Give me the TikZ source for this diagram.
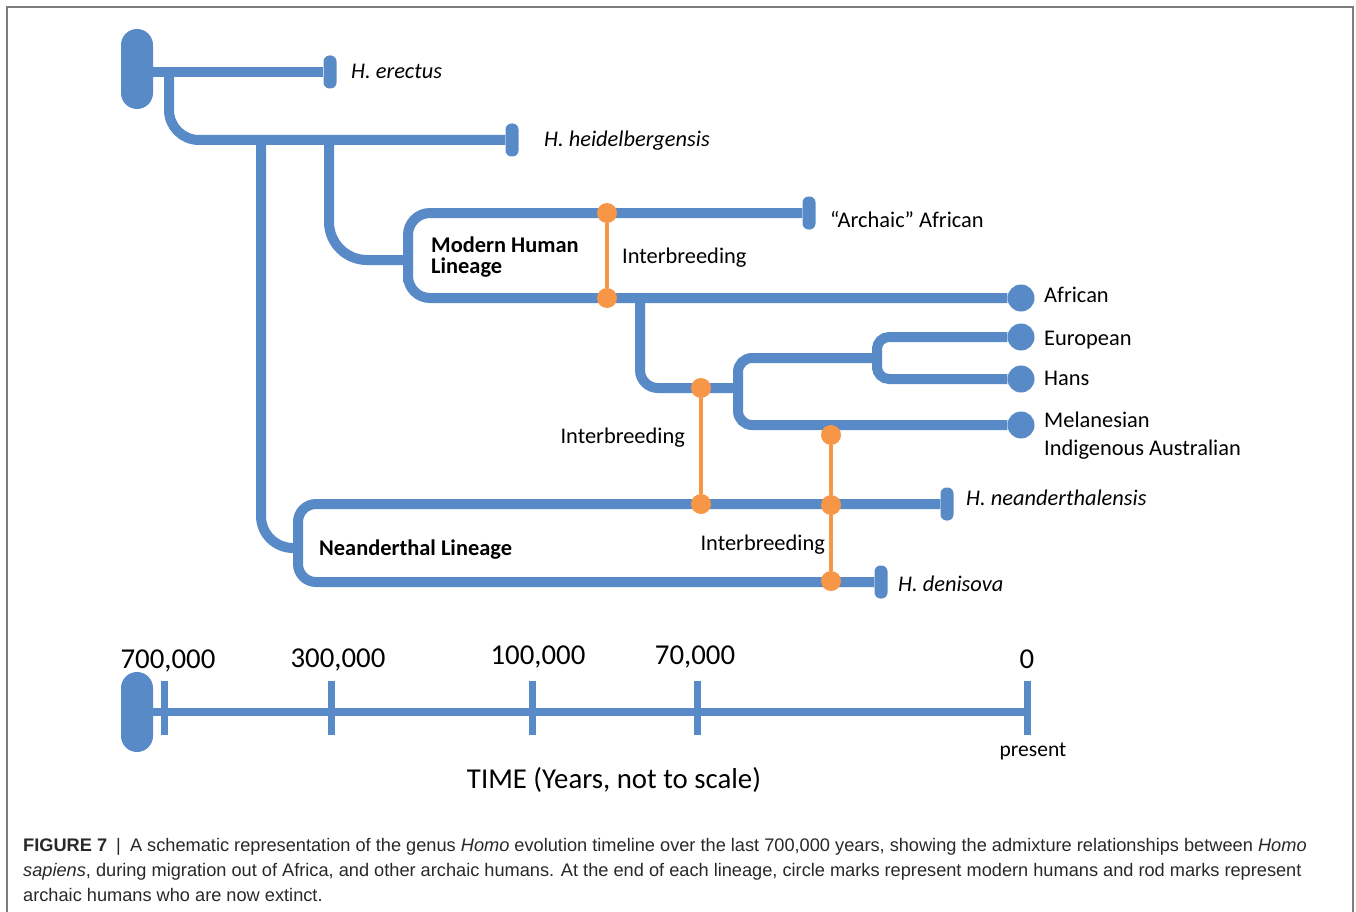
\documentclass[tikz,border=0pt]{standalone}
\usepackage{fontspec}
\setmainfont{Carlito}
\newfontfamily\capfont{Liberation Sans}
\usetikzlibrary{positioning}
\definecolor{lineblue}{RGB}{88,138,200}
\definecolor{mixorange}{RGB}{247,150,70}
\definecolor{framegray}{RGB}{125,125,125}
\definecolor{captext}{RGB}{40,40,40}

\begin{document}
\begin{tikzpicture}[x=1pt, y=-1pt,
  every node/.style={inner sep=0pt, font=\fontsize{22.4}{21}\selectfont},
  lin/.style={draw=lineblue, line width=10pt, rounded corners=#1},
  lin/.default=16pt,
  tline/.style={draw=lineblue, line width=8pt},
  gene/.style={draw=mixorange, line width=4pt},
  rod/.style={rectangle, fill=lineblue, rounded corners=6pt, minimum width=13pt, minimum height=33pt},
  rootrod/.style={rectangle, fill=lineblue, rounded corners=16pt, minimum width=32pt, minimum height=80pt},
  livetip/.style={circle, fill=lineblue, minimum size=27pt},
  mixdot/.style={circle, fill=mixorange, minimum size=20pt},
  yearmark/.style={rectangle, fill=lineblue, minimum width=7pt, minimum height=54pt},
  tag/.style={anchor=base west},
  yearlab/.style={font=\fontsize{28.8}{30}\selectfont, anchor=base},
  capline/.style={anchor=base west, text=captext, font=\capfont\fontsize{18.2}{25}\selectfont}]
  \useasboundingbox (0,0) rectangle (1356,912);
  \draw[framegray, line width=1.5pt] (7,912) -- (7,7) -- (1353,7) -- (1353,912);

  % ends of the lineages
  \node[rootrod] (root) at (137,69) {};
  \node[rod] (erectus) at (330,72) {};
  \node[rod] (heidel) at (512,140) {};
  \node[rod] (archaic) at (809,213) {};
  \node[livetip] (african) at (1021,298) {};
  \node[livetip] (euro) at (1021,337) {};
  \node[livetip] (hans) at (1021,379) {};
  \node[livetip] (mela) at (1021,425) {};
  \node[rod] (neand) at (947,504) {};
  \node[rod] (denis) at (881,582) {};

  \coordinate (j1) at (169,72);
  \coordinate (j2) at (261,140);
  \coordinate (j3) at (329,140);
  \coordinate (mh) at (408,260);
  \coordinate (nl) at (298,548);
  \coordinate (j4) at (640,298);
  \coordinate (nb) at (738,388);
  \coordinate (eh) at (877,358);

  \draw[lin] (erectus) -- (erectus -| root.center);
  \draw[lin=30pt] (j1) |- (heidel);
  \draw[lin=32pt] (j2) |- (nl);
  \draw[lin=38pt] (j3) |- (mh);
  \draw[lin=22pt] (archaic) -| (mh) |- (african);
  \draw[lin=18pt] (neand) -| (nl) |- (denis);
  \draw[lin=18pt] (j4) |- (nb);
  \draw[lin=14pt] (eh) -| (nb) |- (mela);
  \draw[lin=12pt] (euro) -| (eh) |- (hans);

  % interbreeding events
  \node[mixdot] (m1) at (607,213) {};
  \node[mixdot] (m2) at (607,298) {};
  \node[mixdot] (m3) at (701,388) {};
  \node[mixdot] (m4) at (701,504) {};
  \node[mixdot] (m5) at (831,435) {};
  \node[mixdot] (m6) at (831,505) {};
  \node[mixdot] (m7) at (831,581) {};
  \draw[gene] (m1) -- (m2);
  \draw[gene] (m3) -- (m4);
  \draw[gene] (m5) -- (m6);
  \draw[gene] (m6) -- (m7);

  \node[tag] (lerectus) at (351,79) {\itshape H. erectus};
  \node[tag] (lheidel) at (544,147) {\itshape H. heidelbergensis};
  \node[tag] (larchaic) at (830,227) {“Archaic” African};
  \node[tag] (lmix1) at (622,263) {Interbreeding};
  \node[tag] (lafrican) at (1044,302) {African};
  \node[tag] (leuro) at (1044,345) {European};
  \node[tag] (lhans) at (1044,385) {Hans};
  \node[tag] (lmela) at (1044,427) {Melanesian};
  \node[tag] (lindig) at (1044,455) {Indigenous Australian};
  \node[anchor=base east] (lmix2) at (685,443) {Interbreeding};
  \node[anchor=base east] (lmix3) at (825,550) {Interbreeding};
  \node[tag] (lneand) at (966,505) {\itshape H. neanderthalensis};
  \node[tag] (ldenis) at (898,591) {\itshape H. denisova};
  \node[tag] (lmh1) at (431,252) {\bfseries Modern Human};
  \node[tag] (lmh2) at (431,273) {\bfseries Lineage};
  \node[tag] (lnl) at (319,555) {\bfseries Neanderthal Lineage};

  % time axis
  \node[rootrod] (troot) at (137,712) {};
  \node[yearmark] (t700) at (164,708) {};
  \node[yearmark] (t300) at (331,708) {};
  \node[yearmark] (t100) at (532,708) {};
  \node[yearmark] (t70) at (697,708) {};
  \node[yearmark] (t0) at (1027,708) {};
  \draw[tline] (troot) -- (troot -| t0);
  \node[yearlab] (y700) at (168,668) {700,000};
  \node[yearlab] (y300) at (338,667) {300,000};
  \node[yearlab] (y100) at (538,664) {100,000};
  \node[yearlab] (y70) at (695,664) {70,000};
  \node[yearlab] (y0) at (1027,668) {0};
  \node[anchor=base, font=\fontsize{21.5}{22}\selectfont] (present) at (1033,756) {present};
  \node[yearlab] (timelab) at (614,788) {TIME (Years, not to scale)};

  \node[capline] (cap1) at (23,851) {\textbf{FIGURE 7}\enspace|\enspace A schematic representation of the genus \textit{Homo} evolution timeline over the last 700,000 years, showing the admixture relationships between \textit{Homo}};
  \node[capline] (cap2) at (23,876) {\textit{sapiens}, during migration out of Africa, and other archaic humans. At the end of each lineage, circle marks represent modern humans and rod marks represent};
  \node[capline] (cap3) at (23,901) {archaic humans who are now extinct.};
\end{tikzpicture}
\end{document}
